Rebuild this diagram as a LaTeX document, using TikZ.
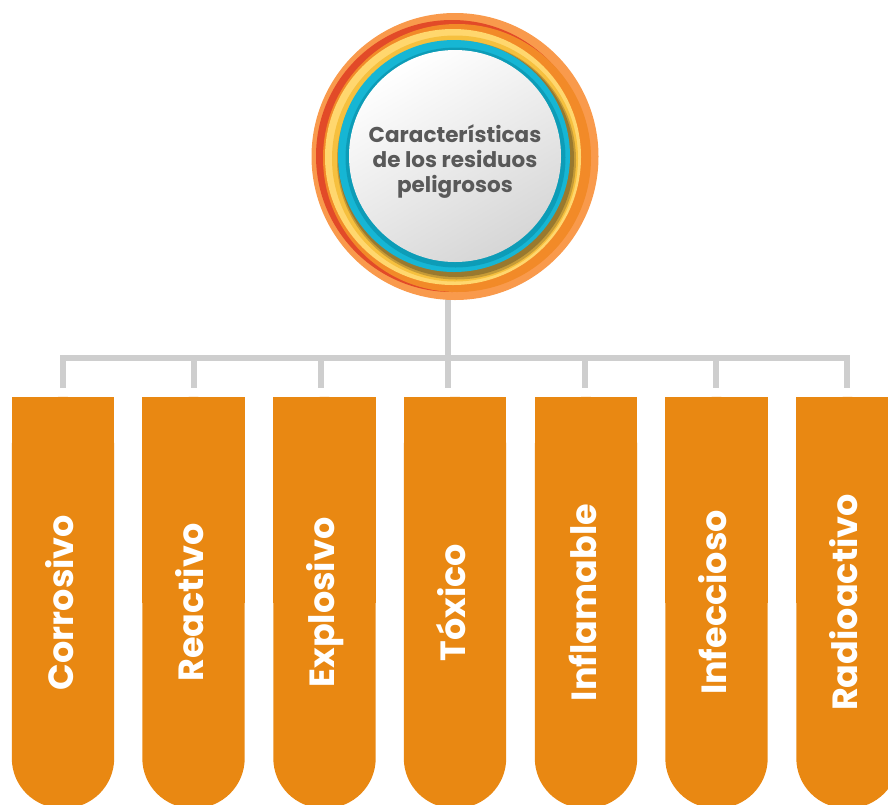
\documentclass[tikz,border=0pt]{standalone}
\usepackage{fontspec}
\setmainfont{Poppins}
\usetikzlibrary{calc}
\definecolor{boxor}{RGB}{233,136,18}
\definecolor{conncol}{RGB}{206,206,206}
\definecolor{ringA}{RGB}{249,154,76}
\definecolor{ringRed}{RGB}{226,74,40}
\definecolor{ringOr}{RGB}{242,138,40}
\definecolor{ringLY}{RGB}{255,215,110}
\definecolor{ringGY}{RGB}{246,192,62}
\definecolor{ringSh}{RGB}{110,88,40}
\definecolor{ringCy}{RGB}{22,182,212}
\definecolor{ringTeal}{RGB}{8,140,165}
\definecolor{txtgray}{RGB}{89,89,89}
\begin{document}
\begin{tikzpicture}[x=1pt,y=-1pt,
  conn/.style={draw=conncol, line width=6pt},
  catbox/.style={draw=none, minimum width=102pt, minimum height=411pt, inner sep=0pt},
  catlabel/.style={rotate=90, anchor=base, text=white, inner sep=0pt, font=\bfseries\fontsize{35}{35}\selectfont},
  hubtext/.style={align=center, text=txtgray, font=\bfseries\fontsize{21.5}{25}\selectfont}
]
\useasboundingbox (0,0) rectangle (888,804);

% connectors
\coordinate (hubfoot) at (448,250);
\foreach \i/\x in {1/63,2/194,3/321,4/448,5/585,6/716,7/847}{
  \coordinate (t\i) at (\x,358);
  \coordinate (d\i) at (\x,388);
}
\draw[conn] (hubfoot) -- (d4);
\draw[conn, line join=miter] (d1) -- (t1) -- (t7) -- (d7);
\foreach \i in {2,3,5,6}{ \draw[conn] (t\i) -- (d\i); }

% hub circle
\node[circle, minimum size=287pt, inner sep=0pt] (hub) at (455,156.5) {};
\fill[ringA] (hub.center) circle[radius=143.5pt];
\fill[ringRed] (452,156) circle[radius=136pt];
\fill[ringOr] (457,158) circle[radius=134pt];
\fill[ringLY] (453,157) circle[radius=128pt];
\fill[ringGY] (455,158.5) circle[radius=123pt];
\fill[ringSh, opacity=0.35] (456.5,160) circle[radius=119.5pt];
\fill[ringSh, opacity=0.5] (456,159) circle[radius=118pt];
\fill[ringCy] (454,156) circle[radius=116pt];
\fill[ringTeal, opacity=0.6] (455.5,157.5) circle[radius=110pt];
\shade[shading=axis, top color=white, bottom color=black!16, shading angle=30] (455,156) circle[radius=106pt];
\node[hubtext] (title) at (455,162) {Características\\de los residuos\\peligrosos};

% category boxes
\foreach \i/\x/\t in {1/63/Corrosivo,2/193.5/Reactivo,3/324.5/Explosivo,4/455/Tóxico,5/586/Inflamable,6/716.5/Infeccioso,7/847.5/Radioactivo}{
  \node[catbox] (b\i) at (\x,602.5) {};
  \fill[boxor, rounded corners=50pt] (b\i.north west) rectangle (b\i.south east);
  \fill[boxor] (b\i.north west) rectangle (b\i.east);
  \node[catlabel] (l\i) at ($(b\i.center)+(10,0)$) {\t};
}
\end{tikzpicture}
\end{document}
